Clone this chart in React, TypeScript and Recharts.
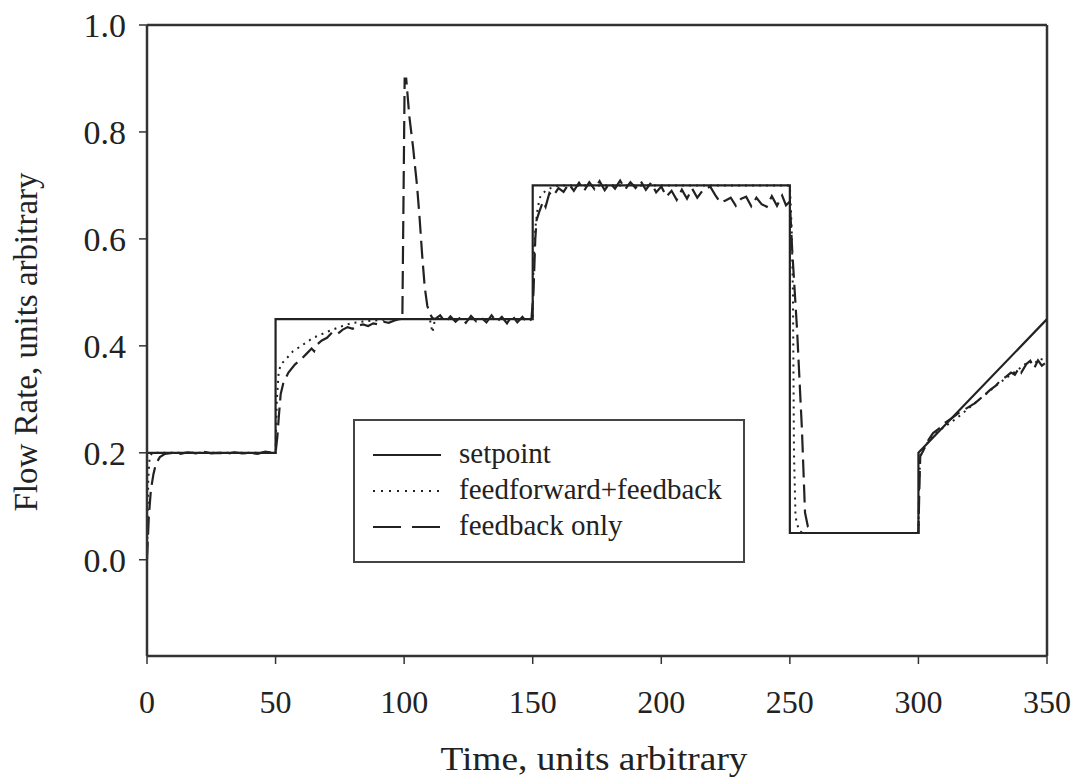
import React from "react";
import {
  LineChart, Line, XAxis, YAxis, ReferenceLine, Legend,
} from "recharts";

// setpoint (solid)
const spTime = [0, 50, 50, 150, 150, 250, 250, 300, 300, 350];
const spValue = [0.2, 0.2, 0.45, 0.45, 0.7, 0.7, 0.05, 0.05, 0.2, 0.45];

// feedforward+feedback (dotted)
const ffTime = [
  0, 0.5, 1, 2, 10, 20, 30, 40, 50, 50.5, 51.2, 52, 54, 56.8, 60, 64.6, 68, 72, 76, 80, 85, 90, 95,
  100, 110, 111, 112, 120, 130, 140, 150, 150.3, 151, 152, 153, 155, 157, 160, 180, 200, 220, 250,
  250.7, 251.2, 251.6, 252.2, 253.5, 255, 280, 300, 300.3, 300.8, 303, 306, 310, 315, 320, 325, 330,
  335, 340, 343, 345, 347, 350,
];
const ffValue = [
  0.0, 0.15, 0.19, 0.2, 0.2, 0.2, 0.2, 0.2, 0.2, 0.3, 0.35, 0.365, 0.375, 0.39, 0.4, 0.415, 0.422, 0.43, 0.437, 0.443, 0.446, 0.448, 0.45,
  0.45, 0.45, 0.425, 0.45, 0.45, 0.45, 0.45, 0.45, 0.55, 0.62, 0.66, 0.68, 0.69, 0.695, 0.7, 0.7, 0.7, 0.7, 0.7,
  0.62, 0.5, 0.2, 0.08, 0.055, 0.05, 0.05, 0.05, 0.15, 0.2, 0.215, 0.235, 0.248, 0.265, 0.285, 0.305, 0.325,
  0.343, 0.36, 0.372, 0.366, 0.376, 0.372,
];

// feedback only (dashed)
const fbTime = [
  0, 0.7, 1.5, 2.5, 3.5, 5, 7, 10, 13, 16, 19, 22, 25, 28, 31, 34, 37, 40, 43, 46, 49, 50,
  50.7, 51.3, 52, 53, 55, 57.5, 60, 62, 64, 65, 66, 68, 70, 72, 74, 76, 78, 80, 82, 84, 86, 88, 90, 92, 94, 96, 98,
  99.3, 99.8, 100.2, 100.8, 102, 103.5, 105, 106, 107, 108, 109, 110, 111, 112,
  114, 116, 118, 120, 122, 124, 126, 128, 130, 132, 134, 136, 138, 140, 142, 144, 146, 148, 149.5,
  150.3, 151, 151.5, 152.5, 154, 155, 156.5, 158, 160, 162, 164, 166, 168, 170, 172, 174, 176, 178, 180,
  182, 184, 186, 188, 190, 192, 194, 196, 198, 200, 202, 204, 206, 208, 210, 212, 214, 216, 219, 221,
  223, 225, 227, 229, 231, 233, 235, 237, 239, 241, 243, 245, 247, 248.5, 250,
  250.9, 252.8, 254.7, 255.9, 257, 259, 280, 300,
  300.3, 300.7, 302, 304, 305.7, 308, 310, 313, 316, 319, 322, 325, 328, 330, 332, 334, 336, 337.5,
  339, 340, 342, 343.5, 345, 346.5, 348, 350,
];
const fbValue = [
  0.0, 0.08, 0.13, 0.16, 0.18, 0.192, 0.198, 0.2, 0.198, 0.201, 0.199, 0.202, 0.199, 0.2, 0.198, 0.201, 0.199, 0.2, 0.198, 0.202, 0.2, 0.2,
  0.23, 0.27, 0.31, 0.33, 0.35, 0.365, 0.375, 0.385, 0.395, 0.39, 0.402, 0.41, 0.415, 0.425, 0.422, 0.43, 0.435, 0.432, 0.438, 0.44, 0.437, 0.442, 0.44, 0.445, 0.443, 0.447, 0.45,
  0.45, 0.7, 0.9, 0.9, 0.83, 0.77, 0.7, 0.64, 0.57, 0.51, 0.475, 0.46, 0.452, 0.45,
  0.457, 0.444, 0.455, 0.445, 0.454, 0.443, 0.456, 0.446, 0.453, 0.444, 0.457, 0.445, 0.454, 0.442, 0.457, 0.444, 0.454, 0.443, 0.45,
  0.5, 0.6, 0.635, 0.65, 0.67, 0.66, 0.686, 0.68, 0.695, 0.688, 0.703, 0.69, 0.705, 0.69, 0.706, 0.693, 0.708, 0.691, 0.705,
  0.694, 0.709, 0.693, 0.706, 0.695, 0.708, 0.692, 0.705, 0.687, 0.698, 0.679, 0.69, 0.673, 0.692, 0.675, 0.694, 0.677, 0.69, 0.698, 0.682,
  0.668, 0.672, 0.677, 0.662, 0.675, 0.679, 0.661, 0.677, 0.665, 0.66, 0.68, 0.662, 0.681, 0.663, 0.67,
  0.58, 0.43, 0.243, 0.088, 0.062, 0.05, 0.05, 0.05,
  0.12, 0.193, 0.205, 0.225, 0.237, 0.245, 0.255, 0.265, 0.276, 0.284, 0.293, 0.305, 0.318, 0.325, 0.336, 0.342, 0.35, 0.346,
  0.358, 0.35, 0.366, 0.372, 0.358, 0.373, 0.363, 0.37,
];

const xTicks = [0, 50, 100, 150, 200, 250, 300, 350];
const yTicks = [0, 0.2, 0.4, 0.6, 0.8, 1.0];

const zip = (ts: number[], vs: number[]) => ts.map((t, i) => ({ t, v: vs[i] }));

const FONT = "'Liberation Serif', 'Times New Roman', serif";
const INK = "#222";

function LegendBox() {
  const rows = [
    { name: "setpoint", dash: undefined as string | undefined, w: 2.2 },
    { name: "feedforward+feedback", dash: "2 6", w: 2 },
    { name: "feedback only", dash: "28 11", w: 2.2 },
  ];
  return (
    <div style={{
      width: 392, height: 144, boxSizing: "border-box", border: "2.5px solid #444",
      background: "#fff", paddingTop: 14, fontFamily: FONT,
    }}>
      {rows.map((r) => (
        <div key={r.name} style={{ display: "flex", alignItems: "center", height: 36 }}>
          <svg width={104} height={20} style={{ flex: "none" }}>
            <line x1={18} x2={86} y1={12} y2={12} stroke={INK} strokeWidth={r.w} strokeDasharray={r.dash} />
          </svg>
          <span style={{ fontSize: 29, color: INK, lineHeight: 1 }}>{r.name}</span>
        </div>
      ))}
    </div>
  );
}

export default function App() {
  const xTickStyle = { fontSize: 32, fill: INK, fontFamily: FONT };
  const yTickStyle = { fontSize: 34, fill: INK, fontFamily: FONT };
  return (
    <div style={{ position: "absolute", left: 0, top: 0, width: 1085, height: 780, background: "#fff", fontFamily: FONT }}>
      <LineChart width={1085} height={780} margin={{ top: 25, right: 38, left: 47, bottom: 64 }}>
        <XAxis dataKey="t" type="number" domain={[0, 350]} ticks={xTicks} allowDataOverflow
          height={60} tickSize={8} tickMargin={26} tick={xTickStyle}
          axisLine={{ stroke: "#333", strokeWidth: 2.5 }} tickLine={{ stroke: "#333", strokeWidth: 1.5 }} />
        <YAxis type="number" domain={[-0.18, 1]} ticks={yTicks} allowDataOverflow
          width={100} tickSize={8} tickMargin={13} tick={yTickStyle}
          tickFormatter={(v: number) => v.toFixed(1)}
          axisLine={{ stroke: "#333", strokeWidth: 2.5 }} tickLine={{ stroke: "#333", strokeWidth: 1.5 }} />

        {/* frame top and right */}
        <ReferenceLine y={1} stroke="#333" strokeWidth={2.5} />
        <ReferenceLine x={350} stroke="#333" strokeWidth={2.5} />

        <Legend layout="vertical" verticalAlign="middle" align="center"
          wrapperStyle={{ position: "absolute", left: 353, top: 419, width: 392, height: 144 }}
          content={() => <LegendBox />} />

        <Line data={zip(ffTime, ffValue)} dataKey="v" name="feedforward+feedback" type="linear"
          stroke={INK} strokeWidth={2} strokeDasharray="2 5" dot={false} isAnimationActive={false} />
        <Line data={zip(fbTime, fbValue)} dataKey="v" name="feedback only" type="linear"
          stroke={INK} strokeWidth={2.2} strokeDasharray="18 7" dot={false} isAnimationActive={false} />
        <Line data={zip(spTime, spValue)} dataKey="v" name="setpoint" type="linear"
          stroke={INK} strokeWidth={2.2} dot={false} isAnimationActive={false} />
      </LineChart>

      <div style={{
        position: "absolute", left: 594, top: 742, transform: "translateX(-50%) scaleX(1.1)",
        fontSize: 34, lineHeight: 1, color: INK, whiteSpace: "nowrap",
      }}>Time, units arbitrary</div>
      <div style={{
        position: "absolute", left: 26, top: 342, transform: "translate(-50%, -50%) rotate(-90deg)",
        fontSize: 33, lineHeight: 1, color: INK, whiteSpace: "nowrap",
      }}>Flow Rate, units arbitrary</div>
    </div>
  );
}
